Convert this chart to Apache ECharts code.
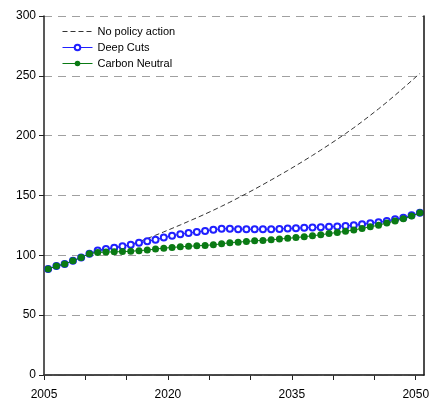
<!DOCTYPE html>
<html>
<head>
<meta charset="utf-8">
<script src="https://cdn.jsdelivr.net/npm/echarts@6/dist/echarts.min.js"></script>
<style>
  html, body { margin: 0; padding: 0; background: #fff; }
  #chart { width: 433px; height: 401px; }
</style>
</head>
<body>
<div id="chart"></div>
<script>
// Annual values, 2005-2050 (index 100 around 2010)
const years = [2005, 2006, 2007, 2008, 2009, 2010, 2011, 2012, 2013, 2014,
  2015, 2016, 2017, 2018, 2019, 2020, 2021, 2022, 2023, 2024,
  2025, 2026, 2027, 2028, 2029, 2030, 2031, 2032, 2033, 2034,
  2035, 2036, 2037, 2038, 2039, 2040, 2041, 2042, 2043, 2044,
  2045, 2046, 2047, 2048, 2049, 2050];

const noPolicy = [88.5, 91.0, 92.8, 95.5, 98.2, 101.4, 103.8, 105.3, 106.3, 107.6,
  109.0, 111.4, 114.0, 116.8, 119.6, 122.5, 125.4, 128.4, 131.4, 134.5,
  137.7, 141.0, 144.4, 148.0, 151.6, 155.3, 159.1, 163.0, 166.9, 170.9,
  175.0, 179.2, 183.5, 187.9, 192.4, 197.0, 201.7, 206.6, 211.7, 217.0,
  222.4, 228.0, 233.8, 239.8, 245.9, 252.0];

const deepCuts = [88.5, 91.0, 92.8, 95.5, 98.2, 101.4, 104.0, 105.3, 106.3, 107.5,
  108.8, 110.5, 111.7, 113.1, 114.8, 116.4, 117.6, 118.6, 119.4, 120.4,
  121.4, 122.2, 122.3, 121.9, 121.8, 121.8, 121.8, 121.9, 122.1, 122.4,
  122.7, 123.0, 123.2, 123.5, 123.8, 124.1, 124.6, 125.2, 126.0, 126.8,
  127.6, 128.7, 130.1, 131.4, 133.4, 135.5];

const carbonNeutral = [88.5, 91.0, 92.8, 95.5, 98.2, 101.4, 102.4, 102.7, 102.9, 103.1,
  103.4, 103.9, 104.4, 105.2, 106.0, 106.6, 107.1, 107.5, 108.0, 108.3,
  108.8, 109.6, 110.6, 111.0, 111.6, 112.1, 112.5, 113.0, 113.6, 114.2,
  114.8, 115.6, 116.3, 117.2, 118.2, 119.1, 120.1, 121.2, 122.5, 123.8,
  125.2, 127.0, 128.7, 130.6, 132.8, 135.5];

const xTicks = [2005, 2010, 2015, 2020, 2025, 2030, 2035, 2040, 2045, 2050];
const xLabels = [2005, 2020, 2035, 2050];
const yTicks = { min: 0, max: 300, step: 50 };

// Each annual point sits in the middle of its year slot
const toPoints = vals => vals.map((v, i) => [years[i] + 0.5, v]);

const font = 'Liberation Sans, Arial, sans-serif';
const blue = '#2020ff';
const green = '#0a7a14';
const chart = echarts.init(document.getElementById('chart'), null, { renderer: 'canvas' });

chart.setOption({
  animation: false,
  backgroundColor: '#fff',
  textStyle: { fontFamily: font },
  grid: { left: 44, right: 9, top: 16, bottom: 19, containLabel: false },
  legend: {
    orient: 'vertical',
    left: 57,
    top: 21,
    itemWidth: 30,
    itemHeight: 7,
    itemGap: 5,
    textStyle: { fontSize: 11, color: '#000', fontFamily: font },
    data: [
      { name: 'No policy action', itemStyle: { opacity: 0 }, lineStyle: { width: 1 } },
      { name: 'Deep Cuts', lineStyle: { width: 1 } },
      { name: 'Carbon Neutral', lineStyle: { width: 1 } }
    ]
  },
  xAxis: [{
    type: 'value',
    min: 2005,
    max: 2051,
    interval: 5,
    axisLine: { show: true, onZero: false, lineStyle: { color: '#222', width: 1.5 } },
    axisTick: { show: true, length: 5, customValues: xTicks, lineStyle: { color: '#222' } },
    axisLabel: {
      customValues: xLabels,
      margin: 14,
      fontSize: 12,
      color: '#000',
      fontFamily: font,
      formatter: v => String(v)
    },
    splitLine: { show: false }
  }, {
    type: 'value',
    position: 'top',
    min: 2005,
    max: 2051,
    z: 5,
    axisLine: { show: true, lineStyle: { color: '#444', width: 1.5, type: [8, 2] } },
    axisTick: { show: false },
    axisLabel: { show: false },
    splitLine: { show: false }
  }],
  yAxis: [{
    type: 'value',
    min: yTicks.min,
    max: yTicks.max,
    interval: yTicks.step,
    axisLine: { show: true, lineStyle: { color: '#222', width: 1.5 } },
    axisTick: { show: true, length: 5, lineStyle: { color: '#222' } },
    axisLabel: { margin: 8, fontSize: 12, color: '#000', fontFamily: font },
    splitLine: {
      show: true,
      lineStyle: { color: '#a0a0a0', type: [8, 6], width: 1 }
    }
  }, {
    type: 'value',
    position: 'right',
    min: yTicks.min,
    max: yTicks.max,
    interval: yTicks.step,
    z: 5,
    axisLine: { show: true, lineStyle: { color: '#111', width: 1.5 } },
    axisTick: { show: false },
    axisLabel: { show: false },
    splitLine: { show: false }
  }],
  series: [{
    name: 'No policy action',
    type: 'line',
    data: toPoints(noPolicy),
    symbol: 'none',
    z: 3,
    lineStyle: { color: '#333', width: 1, type: [5, 3] },
    itemStyle: { color: '#333' }
  }, {
    name: 'Deep Cuts',
    type: 'line',
    data: toPoints(deepCuts),
    symbol: 'emptyCircle',
    symbolSize: 6,
    z: 4,
    lineStyle: { color: blue, width: 1 },
    itemStyle: { color: blue, borderWidth: 0.9 }
  }, {
    name: 'Carbon Neutral',
    type: 'line',
    data: toPoints(carbonNeutral),
    symbol: 'circle',
    symbolSize: 7,
    z: 5,
    lineStyle: { color: green, width: 1 },
    itemStyle: { color: green }
  }]
});
</script>
</body>
</html>
